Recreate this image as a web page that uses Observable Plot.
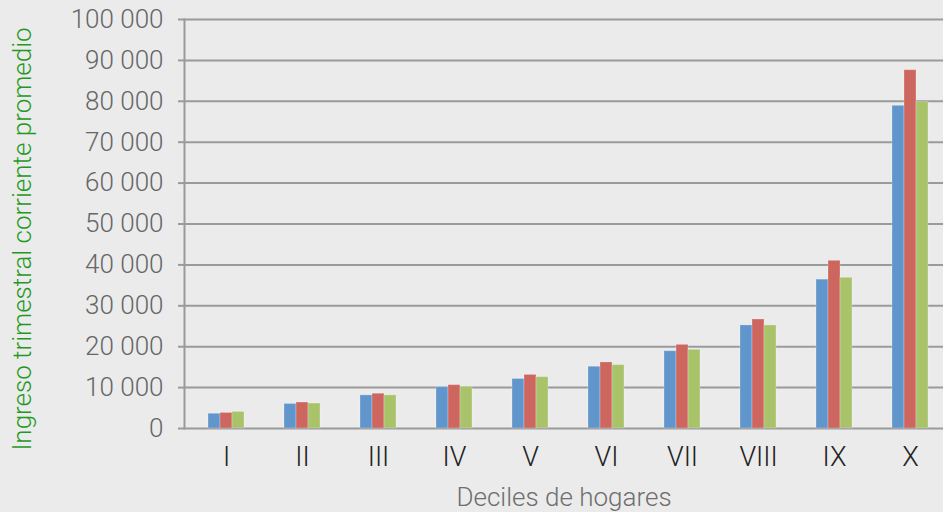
<!DOCTYPE html>
<html>
<head>
<meta charset="utf-8">
<script src="https://cdn.jsdelivr.net/npm/d3@7"></script>
<script src="https://cdn.jsdelivr.net/npm/@observablehq/plot@0.6"></script>
<style>
  html, body { margin: 0; padding: 0; background: #ebebeb; overflow: hidden; }
  #chart { position: relative; width: 943px; height: 512px; }
  #chart svg { display: block; position: absolute; left: 0; top: 0; }
</style>
</head>
<body>
<div id="chart"></div>
<script>
// Categories (deciles)
const deciles = ["I", "II", "III", "IV", "V", "VI", "VII", "VIII", "IX", "X"];
// Series (three survey periods, shown as blue / red / green)
const series = ["Serie 1", "Serie 2", "Serie 3"];
const serie1 = [3600, 6000, 8100, 10100, 12100, 15100, 18900, 25200, 36400, 78900];
const serie2 = [3800, 6350, 8500, 10600, 13100, 16150, 20450, 26650, 41000, 87600];
const serie3 = [4050, 6100, 8100, 10200, 12550, 15500, 19250, 25200, 36850, 79800];
const seriesColors = ["#6096cc", "#cd665e", "#a9c36a"];
// Tick values for the y axis
const yTicks = [0, 10000, 20000, 30000, 40000, 50000, 60000, 70000, 80000, 90000, 100000];
const yTitle = "Ingreso trimestral corriente promedio";
const xTitle = "Deciles de hogares";

const values = [serie1, serie2, serie3];
const data = deciles.flatMap((d, i) =>
  series.map((s, j) => ({decil: d, serie: s, valor: values[j][i]}))
);

const fmt = d => d3.format(",")(d).replace(/,/g, " ");
const font = "Roboto, 'Helvetica Neue', sans-serif";
const catRange = [185, 950];

const common = {
  width: 943,
  height: 512,
  marginLeft: 184,
  marginRight: 0,
  marginTop: 19,
  marginBottom: 84
};

// Background layer: grid, axes and titles
const base = Plot.plot({
  ...common,
  style: {background: "#ebebeb", fontFamily: font, fontWeight: 300, overflow: "visible"},
  x: {type: "band", domain: deciles, range: catRange, padding: 0},
  y: {domain: [0, 100000]},
  marks: [
    Plot.ruleY(yTicks, {stroke: "#9a9a9a", strokeWidth: 2}),
    Plot.frame({anchor: "left", stroke: "#9a9a9a", strokeWidth: 2}),
    Plot.axisY(yTicks, {
      tickSize: 6,
      tickPadding: 15,
      tickFormat: fmt,
      stroke: "#9a9a9a",
      strokeWidth: 2,
      fill: "#666666",
      fontSize: 26,
      label: null
    }),
    Plot.axisX({
      tickSize: 0,
      tickPadding: 18,
      fill: "#222222",
      fontSize: 27,
      label: null
    }),
    Plot.text([xTitle], {
      frameAnchor: "bottom",
      textAnchor: "middle",
      lineAnchor: "bottom",
      dy: 77,
      text: d => d,
      fill: "#6e6e6e",
      fontSize: 26
    }),
    Plot.text([yTitle], {
      frameAnchor: "left",
      textAnchor: "middle",
      rotate: -90,
      dx: -162,
      dy: 15,
      text: d => d,
      fill: "#1f9a1f",
      fontSize: 26
    })
  ]
});

// Foreground layer: grouped bars (faceted by decile)
const bars = Plot.plot({
  ...common,
  style: {background: "transparent", overflow: "visible"},
  fx: {domain: deciles, paddingInner: 0.5, paddingOuter: 0.25, range: catRange, axis: null},
  x: {domain: series, padding: 0, axis: null},
  y: {domain: [0, 100000], axis: null},
  color: {domain: series, range: seriesColors},
  marks: [
    Plot.barY(data, {fx: "decil", x: "serie", y: "valor", fill: "serie", stroke: "#ffffff", strokeOpacity: 0.25, strokeWidth: 1})
  ]
});

document.getElementById("chart").append(base, bars);
</script>
</body>
</html>
